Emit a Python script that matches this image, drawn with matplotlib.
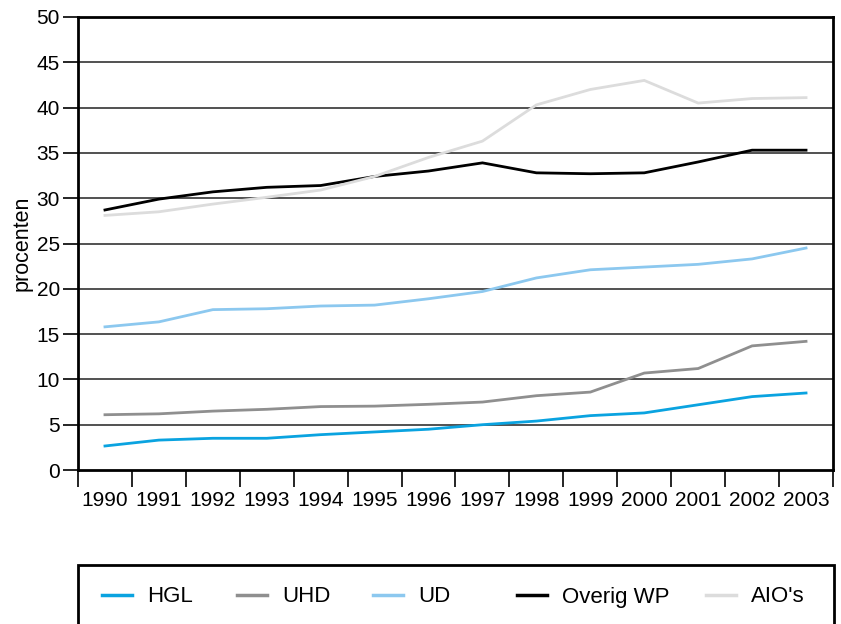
import numpy as np
import matplotlib.pyplot as plt
from matplotlib.lines import Line2D
from matplotlib.patches import Rectangle

# data (procenten)
years = ["1990", "1991", "1992", "1993", "1994", "1995", "1996",
         "1997", "1998", "1999", "2000", "2001", "2002", "2003"]
hgl = [2.65, 3.3, 3.5, 3.5, 3.9, 4.2, 4.5, 5.0, 5.4, 6.0, 6.3, 7.2, 8.1, 8.5]
uhd = [6.1, 6.2, 6.5, 6.7, 7.0, 7.05, 7.25, 7.5, 8.2, 8.6, 10.7, 11.2, 13.7, 14.2]
ud = [15.8, 16.35, 17.7, 17.8, 18.1, 18.2, 18.9, 19.7, 21.2, 22.1, 22.4, 22.7, 23.3, 24.5]
overig_wp = [28.7, 29.9, 30.7, 31.2, 31.4, 32.4, 33.0, 33.9, 32.8, 32.7, 32.8, 34.0, 35.3, 35.3]
aios = [28.1, 28.5, 29.35, 30.1, 30.9, 32.4, 34.5, 36.3, 40.3, 42.0, 43.0, 40.5, 41.0, 41.1]

series_names = ["HGL", "UHD", "UD", "Overig WP", "AIO's"]
series_vals = [hgl, uhd, ud, overig_wp, aios]
colors_lst = ["#0aa3e0", "#8f8f8f", "#8cc8ef", "black", "#dcdcdc"]

plt.rcParams["font.family"] = ["Liberation Sans", "DejaVu Sans"]

fig = plt.figure(figsize=(8.41, 6.24), dpi=100)
ax = fig.add_axes([78 / 841, 1 - 470 / 624, 755 / 841, 453 / 624])

xs = np.arange(len(years))

# gridlines
for y in range(5, 50, 5):
    ax.axhline(y, color="#222222", lw=1.1, zorder=1)

for name, vals, col in zip(series_names, series_vals, colors_lst):
    ax.plot(xs, vals, color=col, lw=2.0, label=name, zorder=2,
            solid_joinstyle="miter")

ax.set_xlim(-0.5, len(years) - 0.5)
ax.set_ylim(0, 50)

# y axis
ax.set_yticks(np.arange(0, 51, 5))
ax.tick_params(axis="y", length=11, width=1.2, labelsize=15, pad=2)
ax.set_ylabel("procenten", fontsize=15.5, labelpad=3)

# x axis: ticks on the boundaries, labels at the centres
ax.set_xticks(np.arange(-0.5, len(years), 1.0))
ax.set_xticklabels([])
ax.set_xticks(xs, minor=True)
ax.set_xticklabels(years, minor=True)
ax.tick_params(axis="x", which="major", length=12, width=1.2)
ax.tick_params(axis="x", which="minor", length=0, labelsize=15, pad=15)

for side in ["left", "bottom", "right", "top"]:
    ax.spines[side].set_linewidth(2.0)

# legend box (runs off the bottom of the picture)
fig.patches.append(Rectangle((78 / 841, -0.05), 756 / 841, 0.05 + (624 - 565) / 624,
                             transform=fig.transFigure, fill=False,
                             edgecolor="black", lw=2.0))

handle_x = [102, 237, 373, 517, 706]
for name, col, hx in zip(series_names, colors_lst, handle_x):
    h = Line2D([0], [0], color=col, lw=2.5)
    fig.legend([h], [name], loc="center left",
               bbox_to_anchor=(hx / 841, 1 - 597 / 624),
               frameon=False, fontsize=16, handlelength=1.35,
               handletextpad=0.68, borderpad=0, borderaxespad=0)

fig.savefig("out.png", dpi=100)
